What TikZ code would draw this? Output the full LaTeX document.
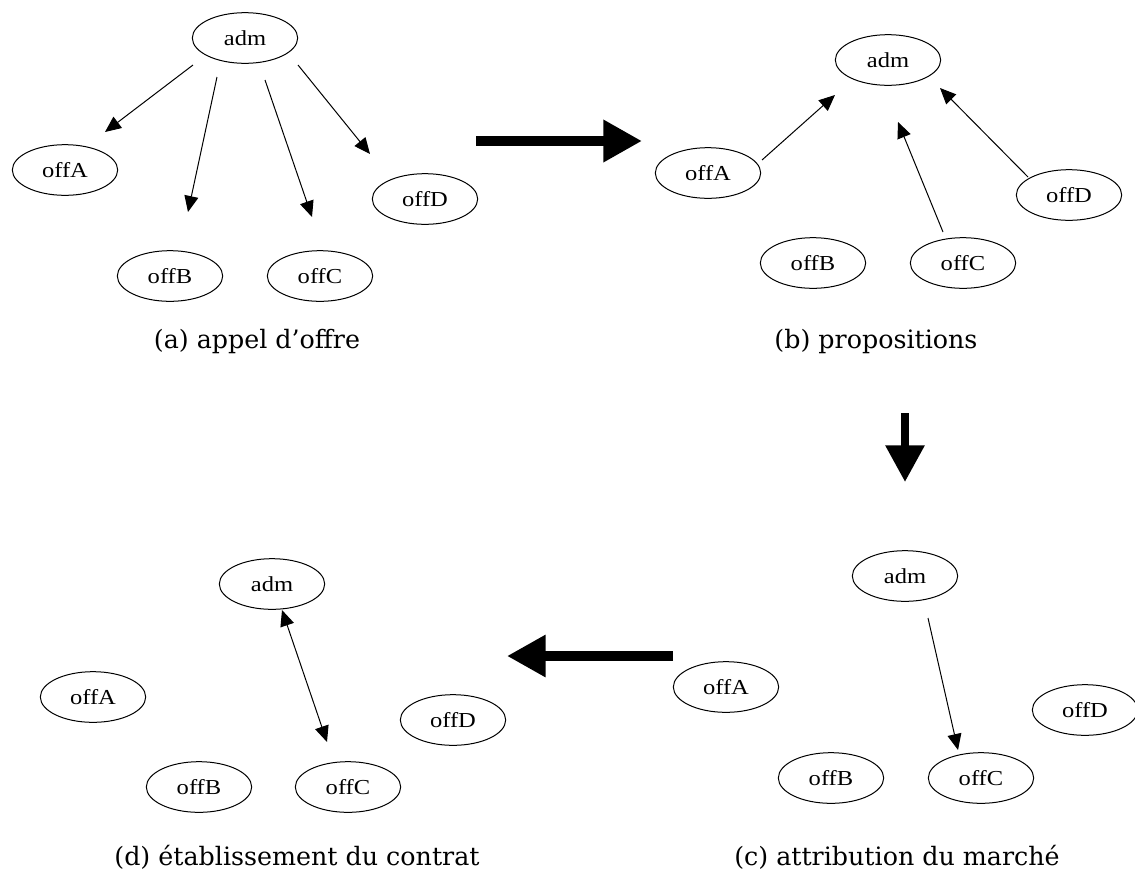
\documentclass[tikz,border=0pt]{standalone}
\usepackage{fontspec}
\setmainfont{Liberation Serif}
\newfontfamily\nodefont[FakeStretch=1.15]{Liberation Serif}
\newfontfamily\capfont{DejaVu Serif}
\usetikzlibrary{arrows.meta,shapes.geometric}

\begin{document}
\begin{tikzpicture}[x=0.75pt,y=-0.75pt,
  agent/.style={draw,ellipse,line width=0.75pt,minimum width=79pt,minimum height=38pt,
                inner sep=0pt,font=\nodefont\fontsize{16}{19}\selectfont},
  msg/.style={line width=0.75pt,-{Triangle[length=12pt,width=10.5pt]}},
  dmsg/.style={line width=0.75pt,{Triangle[length=12pt,width=10.5pt]}-{Triangle[length=12pt,width=10.5pt]}},
  caption/.style={anchor=base,font=\capfont\fontsize{19}{23}\selectfont},
  stage/.style={line width=7.5pt,-{Triangle[length=29pt,width=30pt]}}]

\useasboundingbox[fill=white] (0,0) rectangle (1135,872);

% (a) call for tenders
\node[agent] (a-adm)  at (245,38)  {adm};
\node[agent] (a-offA) at (65,170)  {offA};
\node[agent] (a-offB) at (170,276) {offB};
\node[agent] (a-offC) at (320,276) {offC};
\node[agent] (a-offD) at (425,199) {offD};
\draw[msg] ([shift={(-52,27)}]a-adm.center) -- ([shift={(40,-38)}]a-offA.center);
\draw[msg] ([shift={(-28,39)}]a-adm.center) -- ([shift={(18,-64)}]a-offB.center);
\draw[msg] ([shift={(20,42)}]a-adm.center)  -- ([shift={(-8,-59)}]a-offC.center);
\draw[msg] ([shift={(53,27)}]a-adm.center)  -- ([shift={(-55,-45)}]a-offD.center);
\node[caption] (a-cap) at (257,348) {(a) appel d’offre};

% (b) proposals
\node[agent] (b-adm)  at (888,60)  {adm};
\node[agent] (b-offA) at (708,173) {offA};
\node[agent] (b-offB) at (813,263) {offB};
\node[agent] (b-offC) at (963,263) {offC};
\node[agent] (b-offD) at (1069,195) {offD};
\draw[msg] ([shift={(54,-13)}]b-offA.center)  -- ([shift={(-53,35)}]b-adm.center);
\draw[msg] ([shift={(-20,-31)}]b-offC.center) -- ([shift={(10,62)}]b-adm.center);
\draw[msg] ([shift={(-41,-18)}]b-offD.center) -- ([shift={(52,28)}]b-adm.center);
\node[caption] (b-cap) at (876,348) {(b) propositions};

% (c) award of the contract
\node[agent] (c-adm)  at (905,576)  {adm};
\node[agent] (c-offA) at (726,687)  {offA};
\node[agent] (c-offB) at (831,778)  {offB};
\node[agent] (c-offC) at (981,778)  {offC};
\node[agent] (c-offD) at (1085,710) {offD};
\draw[msg] ([shift={(23,42)}]c-adm.center) -- ([shift={(-23,-28)}]c-offC.center);
\node[caption] (c-cap) at (897,865) {(c) attribution du marché};

% (d) contract establishment
\node[agent] (d-adm)  at (272,584) {adm};
\node[agent] (d-offA) at (93,697)  {offA};
\node[agent] (d-offB) at (199,787) {offB};
\node[agent] (d-offC) at (348,787) {offC};
\node[agent] (d-offD) at (453,720) {offD};
\draw[dmsg] ([shift={(10,26)}]d-adm.center) -- ([shift={(-21,-45)}]d-offC.center);
\node[caption] (d-cap) at (297,865) {(d) établissement du contrat};

% transitions between the stages
\coordinate (ab-from) at (476,141);
\coordinate (ab-to)   at (642,141);
\coordinate (bc-from) at (905,413);
\coordinate (bc-to)   at (905,482);
\coordinate (cd-from) at (673,656);
\coordinate (cd-to)   at (507,656);
\draw[stage] (ab-from) -- (ab-to);
\draw[stage,line width=6pt,-{Triangle[length=27.5pt,width=28pt]}] (bc-from) -- (bc-to);
\draw[stage,line width=7pt] (cd-from) -- (cd-to);
\end{tikzpicture}
\end{document}
